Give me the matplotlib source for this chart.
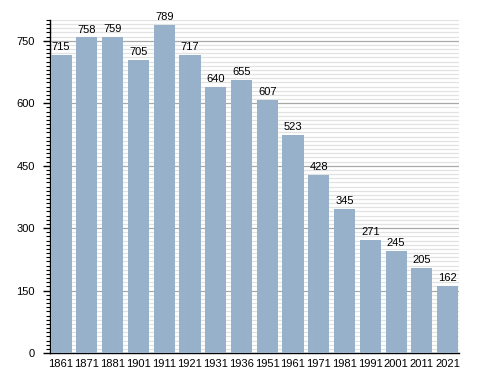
import matplotlib
matplotlib.use("Agg")
import matplotlib.pyplot as plt
from matplotlib.ticker import MultipleLocator

years = ["1861", "1871", "1881", "1901", "1911", "1921", "1931", "1936",
         "1951", "1961", "1971", "1981", "1991", "2001", "2011", "2021"]
population = [715, 758, 759, 705, 789, 717, 640, 655, 607, 523, 428, 345, 271, 245, 205, 162]

plt.rcParams['font.family'] = ['Liberation Sans', 'DejaVu Sans']

fig = plt.figure(figsize=(4.88, 3.73), dpi=100)
ax = fig.add_axes([50/488, 20/373, 409/488, 333/373])

x = list(range(len(years)))
ax.bar(x, population, width=0.82, color='#97B1CB', zorder=3)
for xi, v in zip(x, population):
    ax.text(xi, v + 7, str(v), ha='center', va='bottom', fontsize=8, color='#000000', zorder=4)

ax.set_xlim(-0.43, 15.44)
ax.set_ylim(0, 800)
ax.set_xticks(x)
ax.set_xticklabels(years)
ax.yaxis.set_major_locator(MultipleLocator(150))
ax.yaxis.set_minor_locator(MultipleLocator(10))
ax.grid(axis='y', which='major', color='#A8A8A8', linewidth=0.9, zorder=1)
ax.grid(axis='y', which='minor', color='#E2E2E2', linewidth=0.9, zorder=0)
ax.tick_params(axis='x', length=0, labelsize=8, pad=4)
ax.tick_params(axis='y', which='major', length=5, width=1, labelsize=8, pad=6)
ax.tick_params(axis='y', which='minor', length=3, width=0.8)
for s in ['top', 'right']:
    ax.spines[s].set_visible(False)
ax.spines['left'].set_linewidth(1)
ax.spines['bottom'].set_linewidth(1)

fig.savefig('out.png', dpi=100)
